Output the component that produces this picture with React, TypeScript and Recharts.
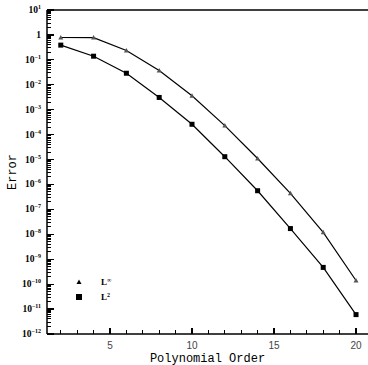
import React from "react";
import {
  LineChart,
  Line,
  XAxis,
  YAxis,
  ReferenceLine,
  Customized,
} from "recharts";

const orders = [2, 4, 6, 8, 10, 12, 14, 16, 18, 20];
const lInf = [0.79, 0.78, 0.236, 0.037, 3.6e-3, 2.3e-4, 1.1e-5, 4.4e-7, 1.2e-8, 1.4e-10];
const l2 = [0.39, 0.14, 0.029, 3.1e-3, 2.6e-4, 1.3e-5, 5.6e-7, 1.7e-8, 4.7e-10, 6e-12];
const decades = [1, 0, -1, -2, -3, -4, -5, -6, -7, -8, -9, -10, -11, -12];
const xTicks = [2, 3, 4, 5, 6, 7, 8, 9, 10, 11, 12, 13, 14, 15, 16, 17, 18, 19, 20];
const xLabels = [5, 10, 15, 20];

const X_MIN = 1.16;
const X_MAX = 20.73;

const data = orders.map((o, i) => ({ order: o, linf: lInf[i], l2: l2[i] }));

const yTicks = decades.map((d) => Number(`1e${d}`));

// minor log ticks 2..9 inside each decade
const minorTicks: number[] = [];
decades.forEach((d) => {
  if (d < 1) {
    for (let k = 2; k <= 9; k++) minorTicks.push(Number(`${k}e${d}`));
  }
});

const YTick = (props: any) => {
  const { x, y, payload } = props;
  const v = payload.value;
  const e = Math.round(Math.log10(v));
  return (
    <g>
      <line x1={x} y1={y} x2={x + 7} y2={y} stroke="#000" strokeWidth={1.3} shapeRendering="crispEdges" />
      <text
        x={x - 6}
        y={y + 3}
        textAnchor="end"
        fontFamily="Liberation Serif"
        fontWeight="bold"
        fontSize={9.5}
        fill="#000"
      >
        {e === 0 ? (
          "1"
        ) : (
          <>
            10
            <tspan dy={-4} fontSize={6}>
              {e === 1 ? "1" : `−${-e}`}
            </tspan>
          </>
        )}
      </text>
    </g>
  );
};

const XTick = (props: any) => {
  const { x, y, payload } = props;
  const v = payload.value;
  const major = xLabels.includes(v);
  return (
    <g>
      <line
        x1={x}
        y1={y}
        x2={x}
        y2={y - (major ? 6 : 4)}
        stroke="#000"
        strokeWidth={1.3}
        shapeRendering="crispEdges"
      />
      {major && (
        <text
          x={x}
          y={y + 15}
          textAnchor="middle"
          fontFamily="Liberation Sans"
          fontSize={10}
          fill="#444"
        >
          {v}
        </text>
      )}
    </g>
  );
};

const Triangle = (props: any) => {
  const { cx, cy } = props;
  if (cx == null || cy == null) return null;
  return (
    <polygon
      points={`${cx - 2.5},${cy + 2} ${cx + 2.5},${cy + 2} ${cx},${cy - 2.5}`}
      fill="#555"
    />
  );
};

const Square = (props: any) => {
  const { cx, cy } = props;
  if (cx == null || cy == null) return null;
  return <rect x={cx - 2.5} y={cy - 2.5} width={5} height={5} fill="#000" />;
};

const LegendBox = () => (
  <g fontFamily="Liberation Serif" fontWeight="bold" fontSize={9} fill="#000">
    <polygon points="76.5,284 81.5,284 79,279.5" fill="#000" />
    <text x={101} y={285}>
      L<tspan dy={-3} fontSize={6}>∞</tspan>
    </text>
    <rect x={76} y={294} width={6} height={6} fill="#000" />
    <text x={101} y={300}>
      L<tspan dy={-3} fontSize={6}>2</tspan>
    </text>
  </g>
);

export default function App() {
  return (
    <div style={{ position: "absolute", left: 0, top: 0, width: 368, height: 365, background: "#fff" }}>
      <LineChart
        width={368}
        height={365}
        data={data}
        margin={{ top: 10, right: 0, bottom: 0, left: 0 }}
      >
        <XAxis
          dataKey="order"
          type="number"
          domain={[X_MIN, X_MAX]}
          allowDataOverflow
          ticks={xTicks}
          interval={0}
          tick={<XTick />}
          tickLine={false}
          tickSize={0}
          tickMargin={0}
          height={31}
          axisLine={{ stroke: "#000", strokeWidth: 1.5 }}
          label={{
            value: "Polynomial Order",
            position: "insideBottom",
            offset: 3,
            fontFamily: "Liberation Mono",
            fontSize: 12,
            fill: "#000",
          }}
        />
        <YAxis
          scale="log"
          type="number"
          domain={[1e-12, 10]}
          allowDataOverflow
          ticks={yTicks}
          interval={0}
          tick={<YTick />}
          tickLine={false}
          tickSize={0}
          tickMargin={0}
          width={47}
          axisLine={{ stroke: "#000", strokeWidth: 1.5 }}
          label={{
            value: "Error",
            angle: -90,
            position: "insideLeft",
            offset: 12,
            fontFamily: "Liberation Mono",
            fontSize: 12,
            fill: "#000",
            style: { textAnchor: "middle" },
          }}
        />
        <ReferenceLine y={10} stroke="#000" strokeWidth={1.5} />
        {minorTicks.map((v) => (
          <ReferenceLine
            key={v}
            segment={[
              { x: X_MIN, y: v },
              { x: X_MIN + 0.26, y: v },
            ]}
            stroke="#000"
            strokeWidth={1}
            shapeRendering="crispEdges"
            ifOverflow="visible"
          />
        ))}
        <Line
          dataKey="linf"
          stroke="#000"
          strokeWidth={1.2}
          dot={<Triangle />}
          isAnimationActive={false}
        />
        <Line
          dataKey="l2"
          stroke="#000"
          strokeWidth={1.2}
          dot={<Square />}
          isAnimationActive={false}
        />
        <Customized component={LegendBox} />
      </LineChart>
    </div>
  );
}
